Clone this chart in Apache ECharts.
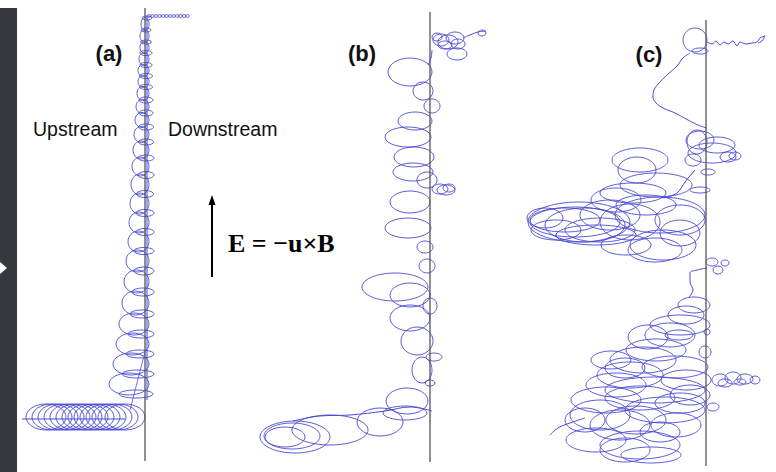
<!DOCTYPE html>
<html>
<head>
<meta charset="utf-8">
<script src="https://cdn.jsdelivr.net/npm/echarts@6/dist/echarts.min.js"></script>
<style>html,body{margin:0;padding:0;background:#fff;}#chart{width:776px;height:472px;}</style>
</head>
<body>
<div id="chart"></div>
<script>
// ---------- DATA (x = distance from shock line, y = position down the frame) ----------
const panelLabels = ['(a)', '(b)', '(c)'];
const sideLabels = ['Upstream', 'Downstream'];
const fieldLabel = 'E = \u2212u\u00D7B';

// shock lines [x, y]
const shockA = [[0, 8], [0, 461]];
const shockB = [[0, 12], [0, 462]];
const shockC = [[0, 20], [0, 466]];

// Panel (a): loops [x, y, rx, ry]
const lobesA = [
  [0,24,4,6.5],[-0.5,36,4.5,6.5],[-0.5,47.5,4.5,6],[-1,59,5,6.5],[-1.5,70.5,5.5,6],[-1.5,81.5,5.5,6],
  [-2,93.5,6,7],[-2.5,106.5,6.5,7],[-3,120,7,7.5],[-3.5,134.5,7.5,8],[-4,150,8,9],[-4.5,166.5,8.5,9.5],
  [-5,184.5,9,10.5],[-5.5,203.5,9.5,10.5],[-6,222.5,10,10.5],[-6.5,241.5,10.5,10.5],[-7.5,261,11.5,11],
  [-8.5,281.5,12.5,11.5],[-9.5,303,13.5,12],[-11,324,15,11],[-12.5,344,16.5,11],[-14,364,18,11],[-16,384,20,11]
];
const flatsA = [
  [2,18,5,2],[1,30,5,2],[1,42,5.5,2],[1,53,6,2.5],[1,65,6,2.5],[1,76,6.5,2.5],[1,87,6.5,2.5],
  [1,100,7,3],[1,113,7,3],[1,127,7.5,3],[1,142,7.5,3],[1,158,8,3],[1,175,8,3.5],[0,194,8.5,3.5],
  [0,213,9,3.5],[0,232,9,3.5],[-1,251,10,3.5],[-1,271,10,4],[-2,292,11,4],[-3,314,12,4],
  [-4,334,13,4],[-5,354,14,4],[-7,374,16,4],[-9,394,17,4]
];
const topRowA = [
  [4,16,2,1.3],[7.5,16,2,1.3],[11,16,2,1.3],[14.5,16,2,1.3],[18,16,2,1.3],[21.5,16,2,1.3],
  [25,16,2,1.3],[28.5,16,2,1.3],[32,16,2,1.3],[35.5,16,2,1.3],[39,16,2,1.3],[42.5,16,2,1.3]
];
const bottomRowA = [
  [-99,417,20,13],[-93,417,20,13],[-87,417,20,13],[-81,417,20,13],[-75,417,20,13],[-69,417,20,13],[-63,417,20,13],
  [-57,417,20,13],[-51,417,20,13],[-45,417,20,13],[-39,417,20,13],[-33,417,20,13],[-27,417,20,13],[-20,417,20,13]
];
const guideA = [[2, 16], [2, 400]];
const rowLineA = [[-123, 419], [-20, 419]];
const driftA = [[0, 352], [-15, 410]];

// Panel (b): loops [x, y, rx, ry]
const loopsB = [
  [11,40,8,6],[18,42,10,7],[25,38,9,6],[15,45,7,4],[28,44,7,5],[7,37,5,4],[52,33,4,3],[27,54,10,6],
  [-20,72,22,14],[-7,91,10,9],[2,106,8,7],[-15,121,17,9],[-22,137,23,10],[-16,157,20,10],[-17,172,20,9],
  [-3,180,10,8],[10,189,8,5],[16,190,9,5],[19,188,6,4],[-20,202,20,11],[-22,228,23,10],[-5,247,8,6],
  [-3,266,8,7],[-35,287,33,14],[-20,295,20,12],[0,306,7,8],[-20,318,20,13],[-13,341,16,14],[4,357,8,4],
  [-8,370,10,13],[0,383,5,3],[-23,401,21,13],[-25,413,22,7],[-50,422,23,14],[-100,430,38,15],
  [-135,437,35,16],[-138,436,28,13],[-145,437,20,10]
];
const tailB = [[33,38],[40,35],[48,32],[56,31]];
const bottomB = [[-137,421],[-110,416],[-80,415],[-45,411],[-20,407],[2,411]];
const linkB = [[2,50],[1,58],[-2,65]];

// Panel (c): loops [x, y, rx, ry]
const loopsC = [
  [-11,40,12,12],[-6,51,8,3],[-9,142,10,12],[-6,140,14,9],[6,153,24,10],[11,145,18,8],[22,157,8,5],
  [29,156,6,4],[2,172,7,3],[-6,190,10,3],[-13,160,8,6],[-66,160,28,12],[-69,170,19,13],[-73,193,33,10],
  [-50,185,36,12],[-127,222,51,20],[-131,222,45,15],[-141,220,35,12],[-121,225,40,17],[-96,215,30,15],
  [-76,222,30,18],[-46,215,45,18],[-26,220,25,15],[-43,245,33,15],[-26,233,20,13],[-161,218,18,10],
  [-106,230,35,12],[-51,250,27,12],[-90,200,25,12],[-110,235,40,10],[-150,230,25,10],[-60,205,30,10],
  [-80,245,25,10],
  [6,262,6,4],[12,270,5,4],[19,263,4,3],[-12,305,16,8],[-26,325,30,10],
  [-36,335,25,12],[-27,335,14,5],[1,332,3,3],[-58,337,20,12],[-63,360,33,13],[-81,368,20,10],
  [-76,375,33,13],[-31,367,33,11],[-1,352,6,6],[14,380,8,6],[27,378,8,6],[39,379,8,5],[49,380,5,4],
  [19,383,7,4],[34,382,6,3],[-51,390,50,13],[-66,398,35,12],[-16,395,20,10],[-106,415,30,15],
  [-86,425,30,15],[-121,420,20,12],[-41,410,40,13],[-26,403,25,10],[7,407,6,4],[-66,445,40,14],
  [-81,450,25,12],[-46,432,20,10],
  [-20,315,18,9],[-50,350,30,11],[-90,385,30,12],[-100,400,35,13],[-70,420,30,14],[-30,425,25,12],
  [-110,440,30,12],[-55,455,30,8],[-20,380,25,10],[-95,360,20,9]
];
const tailC = [[1,42],[6,44],[10,41],[14,45],[18,42],[22,44],[27,41],[31,46],[34,42],[40,44],[46,43],[51,42],[54,38],[59,36],[56,41],[52,43]];
const arcC = [[-16,53],[-23,58],[-29,66],[-38,74],[-46,82],[-52,90],[-53,97],[-50,103],[-43,108],[-31,113],[-18,120],[-8,125],[1,128]];
const midC = [[-11,170],[-21,182],[-29,193],[-43,198]];
const lowC = [[1,268],[-9,270],[-16,273],[-16,282],[-13,290],[-18,298]];
const endC = [[-121,418],[-136,423],[-148,428],[-156,435]];

// ---------- STYLE ----------
const BLUE = '#4a4ad2';
const chart = echarts.init(document.getElementById('chart'), null, {renderer: 'svg'});

function renderEllipse(params, api) {
  const c = api.coord([api.value(0), api.value(1)]);
  const s = api.size([api.value(2), api.value(3)]);
  return {
    type: 'ellipse',
    shape: {cx: c[0], cy: c[1], rx: Math.abs(s[0]), ry: Math.abs(s[1])},
    style: {fill: 'none', stroke: BLUE, lineWidth: 0.9},
    silent: true
  };
}
function ellipses(g, data) {
  return {type: 'custom', xAxisIndex: g, yAxisIndex: g, renderItem: renderEllipse,
          encode: {x: 0, y: 1}, data: data, silent: true, animation: false};
}
function path(g, data, color, width, smooth) {
  return {type: 'line', xAxisIndex: g, yAxisIndex: g, data: data, showSymbol: false, symbol: 'none',
          smooth: smooth, lineStyle: {color: color, width: width}, silent: true, animation: false};
}

const grids = [
  {left: 5, top: 0, width: 280, height: 472},
  {left: 250, top: 0, width: 300, height: 472},
  {left: 516, top: 0, width: 260, height: 472}
];
const xRanges = [[-140, 140], [-180, 120], [-190, 70]];

const option = {
  backgroundColor: '#ffffff',
  animation: false,
  grid: grids,
  xAxis: xRanges.map((r, i) => ({type: 'value', gridIndex: i, min: r[0], max: r[1], show: false})),
  yAxis: xRanges.map((r, i) => ({type: 'value', gridIndex: i, min: 0, max: 472, inverse: true, show: false})),
  series: [
    path(0, shockA, '#555555', 1.3, false),
    path(1, shockB, '#555555', 1.3, false),
    path(2, shockC, '#555555', 1.3, false),
    path(0, guideA, BLUE, 1, false),
    path(0, rowLineA, BLUE, 1.2, false),
    path(0, driftA, BLUE, 0.8, false),
    ellipses(0, lobesA),
    ellipses(0, flatsA),
    ellipses(0, topRowA),
    ellipses(0, bottomRowA),
    ellipses(1, loopsB),
    path(1, tailB, BLUE, 1, 0.4),
    path(1, bottomB, BLUE, 1, 0.4),
    path(1, linkB, BLUE, 1, 0.4),
    ellipses(2, loopsC),
    path(2, tailC, BLUE, 1, 0.3),
    path(2, arcC, BLUE, 1, 0.4),
    path(2, midC, BLUE, 1, 0.4),
    path(2, lowC, BLUE, 1, 0.4),
    path(2, endC, BLUE, 1, 0.4)
  ],
  graphic: [
    {type: 'rect', left: 0, top: 8, shape: {width: 17, height: 464}, style: {fill: '#35383d'}, silent: true},
    {type: 'polygon', shape: {points: [[0, 262], [7, 268], [0, 274]]}, style: {fill: '#ffffff'}, silent: true},
    {type: 'text', x: 109, y: 53, style: {text: panelLabels[0], fill: '#111', textAlign: 'center', textVerticalAlign: 'middle', align: 'center', verticalAlign: 'middle', font: 'bold 22px "Liberation Sans", Arial, sans-serif'}},
    {type: 'text', x: 362, y: 53, style: {text: panelLabels[1], fill: '#111', textAlign: 'center', textVerticalAlign: 'middle', align: 'center', verticalAlign: 'middle', font: 'bold 22px "Liberation Sans", Arial, sans-serif'}},
    {type: 'text', x: 649, y: 54, style: {text: panelLabels[2], fill: '#111', textAlign: 'center', textVerticalAlign: 'middle', align: 'center', verticalAlign: 'middle', font: 'bold 22px "Liberation Sans", Arial, sans-serif'}},
    {type: 'text', x: 33, y: 129, style: {text: sideLabels[0], fill: '#111', textAlign: 'left', textVerticalAlign: 'middle', align: 'left', verticalAlign: 'middle', font: '19.5px "Liberation Sans", Arial, sans-serif'}},
    {type: 'text', x: 168, y: 129, style: {text: sideLabels[1], fill: '#111', textAlign: 'left', textVerticalAlign: 'middle', align: 'left', verticalAlign: 'middle', font: '19.5px "Liberation Sans", Arial, sans-serif'}},
    {type: 'line', shape: {x1: 212, y1: 277, x2: 212, y2: 203}, style: {stroke: '#000', lineWidth: 2}, silent: true},
    {type: 'polygon', shape: {points: [[212, 195], [208.5, 205], [215.5, 205]]}, style: {fill: '#000'}, silent: true},
    {type: 'text', x: 228, y: 243, style: {text: fieldLabel, fill: '#000', textAlign: 'left', textVerticalAlign: 'middle', align: 'left', verticalAlign: 'middle', font: 'bold 26px "Liberation Serif", "Times New Roman", serif'}}
  ]
};
chart.setOption(option);
</script>
</body>
</html>
